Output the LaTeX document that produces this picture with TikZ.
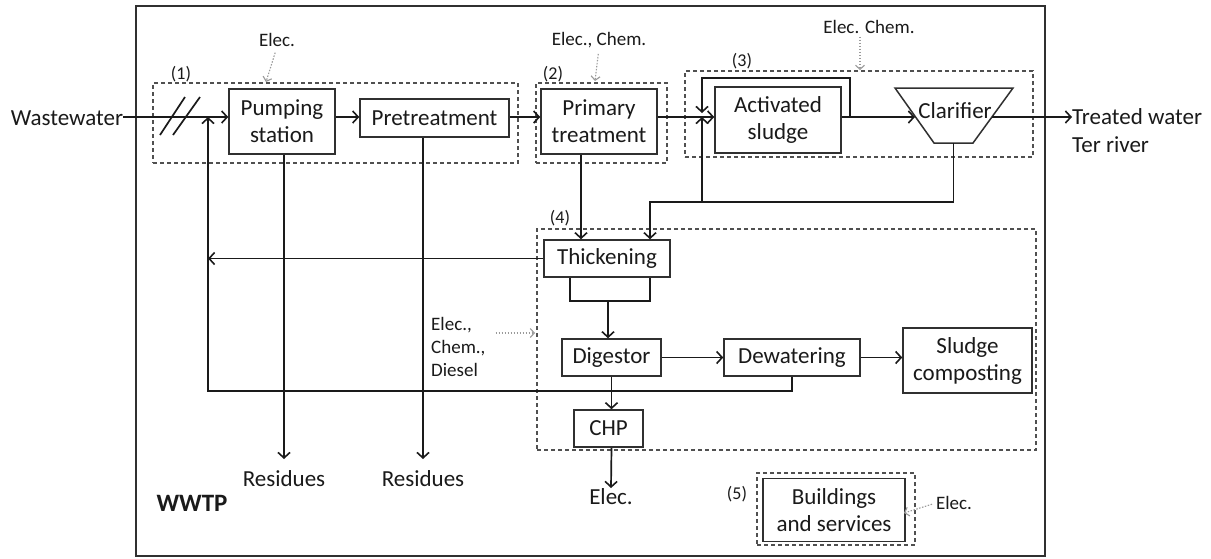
\documentclass[tikz,border=0pt]{standalone}
\usepackage{fontspec}
\setmainfont{Carlito}
\usetikzlibrary{arrows.meta}
\definecolor{txt}{HTML}{1A1A1A}
\definecolor{grpc}{HTML}{505050}
\definecolor{inpc}{HTML}{9A9A9A}
\definecolor{framec}{HTML}{303030}
\begin{document}
\begin{tikzpicture}[x=1pt,y=-1pt,
  box/.style={draw=framec, line width=1.5pt, inner sep=0pt, align=center, text=txt, font=\fontsize{23}{27}\selectfont},
  big/.style={inner sep=0pt, text=txt, font=\fontsize{23}{28}\selectfont},
  lbl/.style={inner sep=0pt, text=txt, font=\fontsize{19}{23}\selectfont},
  num/.style={inner sep=0pt, text=txt, font=\fontsize{18}{21}\selectfont},
  grp/.style={draw=grpc, line width=1.3pt, dash pattern=on 4pt off 3pt, inner sep=0pt},
  wire/.style={line width=1.7pt, draw=txt},
  flow/.style={wire, -{Straight Barb[length=5.5pt,width=12pt,line width=1.6pt]}},
  inp/.style={draw=inpc, line width=1.1pt, dash pattern=on 1.5pt off 1.5pt, -{Straight Barb[length=4pt,width=9pt,line width=1.1pt]}}
]
\useasboundingbox (0,0) rectangle (1211,558);
\fill[white] (0,0) rectangle (1211,558);
% outer frame
\draw[framec, line width=2.2pt] (136,6) rectangle (1045,556);

% group boxes
\node[grp, minimum width=365pt, minimum height=80pt] (g1) at (335.5,123) {};
\node[grp, minimum width=131pt, minimum height=80pt] (g2) at (601.5,123) {};
\node[grp, minimum width=348pt, minimum height=86pt] (g3) at (859,114) {};
\node[grp, minimum width=499pt, minimum height=221pt] (g4) at (786.5,339.5) {};
\node[grp, minimum width=158pt, minimum height=72pt] (g5) at (836,509) {};
\node[num] (n1) at (181,74) {(1)};
\node[num] (n2) at (553,74) {(2)};
\node[num] (n3) at (742,61) {(3)};
\node[num] (n4) at (560,218) {(4)};
\node[num] (n5) at (737,494) {(5)};

% process boxes
\node[box, minimum width=106pt, minimum height=65pt] (pump) at (282,121.5) {Pumping\\station};
\node[box, minimum width=149pt, minimum height=38pt] (pre) at (434.5,118) {Pretreatment};
\node[box, minimum width=116pt, minimum height=65pt] (prim) at (599,121.5) {Primary\\treatment};
\node[box, minimum width=126pt, minimum height=66pt] (act) at (778,120) {Activated\\sludge};
\node[box, minimum width=126pt, minimum height=37pt] (thick) at (607,258.5) {Thickening};
\node[box, minimum width=99pt, minimum height=37pt] (dig) at (611.5,357.5) {Digestor};
\node[box, minimum width=136pt, minimum height=37pt] (dew) at (792,357.5) {Dewatering};
\node[box, minimum width=129pt, minimum height=65pt] (sludge) at (967.5,360.5) {Sludge\\composting};
\node[box, minimum width=69pt, minimum height=37pt] (chp) at (608.5,428.5) {CHP};
\node[box, minimum width=142pt, minimum height=63pt] (bld) at (834,510) {Buildings\\and services};

% clarifier
\coordinate (ctl) at (895,88);
\coordinate (ctr) at (1013,88);
\coordinate (cbr) at (973,143);
\coordinate (cbl) at (934,143);
\draw[draw=framec, line width=1.5pt] (ctl) -- (ctr) -- (cbr) -- (cbl) -- cycle;
\node[big] (clar) at (955,111) {Clarifier};
\coordinate (clin) at (915,117);
\coordinate (clout) at (992,117);
\coordinate (clbot) at (953.5,143);

% outside labels
\node[big] (ww) at (67,118) {Wastewater};
\node[big, align=left, anchor=west] (tw) at (1072,131) {Treated water\\Ter river};
\node[big, anchor=north] (r1) at (284,470) {Residues};
\node[big, anchor=north] (r2) at (423,470) {Residues};
\node[big, anchor=north] (el) at (611,488) {Elec.};
\node[inner sep=0pt, text=txt, font=\bfseries\fontsize{25}{29}\selectfont] (wwtp) at (192,503) {WWTP};

% resource inputs
\node[lbl] (e1) at (277,40) {Elec.};
\node[lbl] (e2) at (599,40) {Elec., Chem.};
\node[lbl] (e3) at (869,27) {Elec. Chem.};
\node[lbl, align=left, anchor=west] (e4) at (431,347) {Elec.,\\Chem.,\\Diesel};
\node[lbl] (e5) at (954,503) {Elec.};
\coordinate (c1) at (266,82);
\coordinate (c2) at (595,81);
\coordinate (c3) at (860,70);
\coordinate (c4) at (535,333);
\coordinate (c5) at (904,513);
\draw[inp, shorten <=6pt] (e1.south) -- (c1);
\draw[inp, shorten <=6pt] (e2.south) -- (c2);
\draw[inp, shorten <=3pt] (e3.south -| c3) -- (c3);
\draw[inp, shorten <=10pt] (e4.east |- c4) -- (c4);
\draw[inp, shorten <=4pt] (e5.west) -- (c5);

% helper coordinates
\coordinate (m) at (0,117);
\coordinate (rx) at (208,0);
\coordinate (xa) at (581,0);
\coordinate (xl) at (570,0);
\coordinate (xr) at (650,0);
\coordinate (jx) at (702,117);
\coordinate (jtop) at (702,113);
\coordinate (lp) at (850,78);
\coordinate (rb) at (953.5,202);
\coordinate (tj) at (608,301);
\coordinate (rr) at (208,391);

% bar screen marks
\draw[wire] (160,135) -- (185,97);
\draw[wire] (173,135) -- (200,97);

% main water line
\draw[flow] (ww.east |- m) -- (pump.west |- m);
\draw[flow] (pump.east |- m) -- (pre.west |- m);
\draw[flow] (pre.east |- m) -- (prim.west |- m);
\draw[flow] (prim.east |- m) -- (act.west |- m);
\draw[flow] (act.east |- m) -- (clin);
\draw[flow] (clout) -- (tw.west |- m);
% internal recycle loop
\draw[flow] (lp |- m) -- (lp) -- (jtop |- lp) -- (jtop);
% clarifier underflow
\draw[flow] (clbot) -- (rb) -- (xr |- rb) -- (thick.north -| xr);
\draw[flow] (jx |- rb) -- (jx);
% primary sludge
\draw[flow] (prim.south -| xa) -- (thick.north -| xa);
% residues
\draw[flow, shorten >=11pt] (pump.south -| r1) -- (r1.north);
\draw[flow, shorten >=11pt] (pre.south -| r2) -- (r2.north);
% thickening
\draw[flow] (thick.west) -- (thick.west -| rx);
\draw[wire] (thick.south -| xl) -- (xl |- tj) -- (xr |- tj) -- (thick.south -| xr);
\draw[flow] (tj) -- (tj |- dig.north);
% sludge line
\draw[flow] (dig.east) -- (dew.west);
\draw[flow] (dew.east) -- (sludge.west |- dew.east);
\draw[flow] (dig.south) -- (dig.south |- chp.north);
\draw[flow] (dig.south |- chp.south) -- (el.north);
% return to headworks
\draw[flow] (dew.south) -- (dew.south |- rr) -- (rr) -- (rx |- m);
\end{tikzpicture}
\end{document}
